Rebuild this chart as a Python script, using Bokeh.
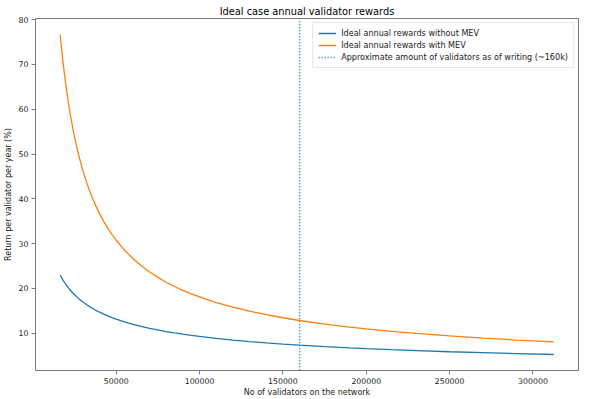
from bokeh.plotting import figure
from bokeh.embed import file_html
from bokeh.resources import INLINE
from bokeh.models import FixedTicker, NumeralTickFormatter, Range1d, Legend, LegendItem

# Data
validators = [16384, 17000, 18000, 19000, 20000, 21000, 22500, 24000, 25000, 27500,
              30000, 32500, 35000, 37500, 40000, 42500, 45000, 47500, 50000, 55000,
              60000, 65000, 70000, 75000, 80000, 85000, 90000, 95000, 100000, 110000,
              120000, 130000, 140000, 150000, 160000, 175000, 190000, 200000, 215000,
              230000, 250000, 270000, 290000, 312500]
rewards_no_mev = [22.97, 22.55, 21.91, 21.33, 20.79, 20.29, 19.6, 18.98, 18.59, 17.73,
                  16.97, 16.31, 15.72, 15.18, 14.7, 14.26, 13.86, 13.49, 13.15, 12.54,
                  12.0, 11.53, 11.11, 10.74, 10.39, 10.08, 9.8, 9.54, 9.3, 8.86,
                  8.49, 8.15, 7.86, 7.59, 7.35, 7.03, 6.74, 6.57, 6.34,
                  6.13, 5.88, 5.66, 5.46, 5.26]
rewards_mev = [76.68, 74.31, 70.8, 67.65, 64.79, 62.19, 58.71, 55.65, 53.79, 49.73,
               46.3, 43.39, 40.86, 38.65, 36.7, 34.97, 33.42, 32.02, 30.75, 28.54,
               26.67, 25.07, 23.68, 22.47, 21.39, 20.43, 19.58, 18.8, 18.1, 16.86,
               15.82, 14.92, 14.15, 13.46, 12.85, 12.06, 11.37, 10.97, 10.43,
               9.96, 9.4, 8.92, 8.49, 8.08]
current_validators = 160000
x_ticks = [50000, 100000, 150000, 200000, 250000, 300000]
y_ticks = [10, 20, 30, 40, 50, 60, 70, 80]

labels = ["Ideal annual rewards without MEV",
          "Ideal annual rewards with MEV",
          "Approximate amount of validators as of writing (~160k)"]

FONT = "DejaVu Sans"
TXT = "#222222"
SPINE = "#7a7a7a"

y_lo, y_hi = 1.69, 80.25
p = figure(width=600, height=399, output_backend="svg", toolbar_location=None,
           title="Ideal case annual validator rewards",
           x_range=Range1d(1578, 327306), y_range=Range1d(y_lo, y_hi),
           min_border_left=35, min_border_right=22, min_border_top=18, min_border_bottom=29)

p.title.align = "center"
p.title.text_font = FONT
p.title.text_font_size = "9.8px"
p.title.text_font_style = "normal"
p.title.text_color = "#000000"
p.title.standoff = 3

p.xgrid.visible = False
p.ygrid.visible = False
p.outline_line_color = SPINE
p.outline_line_width = 1

for ax in (p.xaxis[0], p.yaxis[0]):
    ax.axis_line_color = None
    ax.major_tick_line_color = SPINE
    ax.major_tick_out = 4
    ax.major_tick_in = 0
    ax.minor_tick_line_color = None
    ax.major_label_text_font = FONT
    ax.major_label_text_font_size = "7.8px"
    ax.major_label_text_color = TXT
    ax.axis_label_text_font = FONT
    ax.axis_label_text_font_size = "8px"
    ax.axis_label_text_font_style = "normal"
    ax.axis_label_text_color = TXT
    ax.major_label_standoff = 3

p.xaxis[0].axis_label_standoff = 1
p.yaxis[0].axis_label_standoff = 3

p.xaxis[0].ticker = FixedTicker(ticks=x_ticks)
p.xaxis[0].formatter = NumeralTickFormatter(format="0")
p.yaxis[0].ticker = FixedTicker(ticks=y_ticks)
p.xaxis[0].axis_label = "No of validators on the network"
p.yaxis[0].axis_label = "Return per validator per year (%)"

r1 = p.line(validators, rewards_no_mev, line_color="#1f77b4", line_width=1.3)
r2 = p.line(validators, rewards_mev, line_color="#ff7f0e", line_width=1.3)
r3 = p.segment(x0=[current_validators], y0=[y_lo - 10], x1=[current_validators], y1=[y_hi + 10],
               line_color="#1f77b4", line_width=1.5, line_dash="1 2")

legend = Legend(items=[LegendItem(label=labels[0], renderers=[r1]),
                       LegendItem(label=labels[1], renderers=[r2]),
                       LegendItem(label=labels[2], renderers=[r3])],
                location="top_right")
legend.label_text_font = FONT
legend.label_text_font_size = "8.1px"
legend.label_text_color = TXT
legend.glyph_width = 18
legend.glyph_height = 10
legend.label_height = 10
legend.spacing = 2
legend.padding = 5
legend.margin = 4
legend.label_standoff = 5
legend.border_line_color = "#cccccc"
legend.border_line_width = 1
legend.background_fill_alpha = 0.8
p.add_layout(legend, "center")

open("out.html", "w").write(file_html(p, INLINE))
